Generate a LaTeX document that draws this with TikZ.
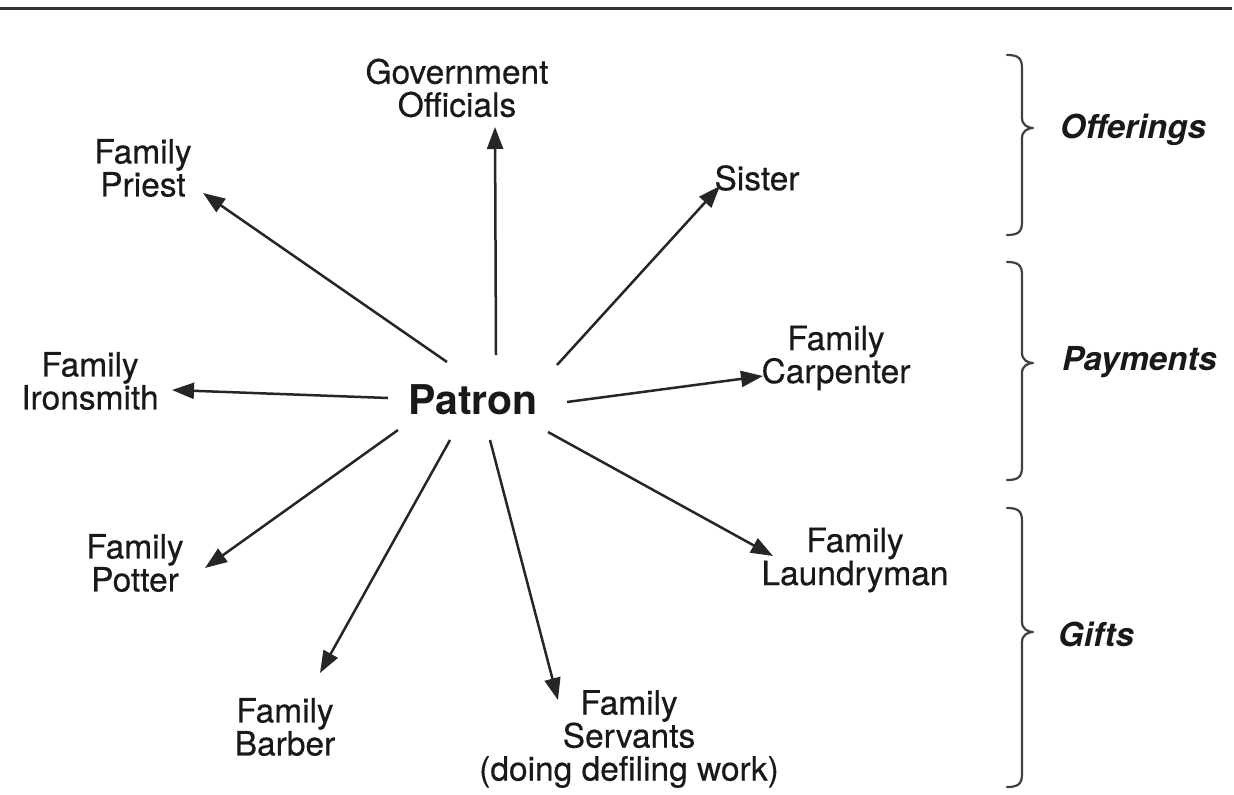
\documentclass[tikz,border=0pt]{standalone}
\usepackage{fontspec}
\setmainfont{TeX Gyre Heros}
\newfontfamily\lblfont{TeX Gyre Heros}[FakeBold=0.4]
\usetikzlibrary{arrows.meta}
\begin{document}
\begin{tikzpicture}[x=1bp,y=-1bp,
  lbl/.style={align=center,inner sep=0pt,text=black!90,
    font=\lblfont\fontsize{33.5bp}{33bp}\selectfont},
  hub/.style={inner sep=0pt,text=black!90,
    font=\bfseries\fontsize{41bp}{42bp}\selectfont},
  kind/.style={anchor=west,inner sep=0pt,text=black!90,
    font=\bfseries\itshape\fontsize{33bp}{33bp}\selectfont},
  arr/.style={line width=2.5bp,draw=black!85,
    -{Triangle[length=22bp,width=16bp]}},
  brace/.style={line width=2.2bp,draw=black!75,line cap=round,line join=round}]
\useasboundingbox (0,0) rectangle (1234,795);
\fill[white] (0,0) rectangle (1234,795);

% rule across the top
\draw[line width=3bp,black!80] (0,9) -- (1232,9);

% central node and the households around it
\node[hub] (patron) at (473,400) {Patron};
\node[lbl] (gov) at (457,88) {Government\\Officials};
\node[lbl] (priest) at (143,168) {Family\\Priest};
\node[lbl] (sister) at (757,178) {Sister};
\node[lbl] (iron) at (90,381) {Family\\Ironsmith};
\node[lbl] (carp) at (836,358) {Family\\Carpenter};
\node[lbl] (potter) at (135,563) {Family\\Potter};
\node[lbl] (laundry) at (855,560) {Family\\Laundryman};
\node[lbl] (barber) at (285,727) {Family\\Barber};
\node[lbl] (serv) at (629,739) {Family\\Servants\\(doing defiling work)};

% arrows from the patron outwards
\draw[arr] ([shift={(23,-45)}]patron.center) -- ([shift={(38,39)}]gov.center);
\draw[arr] ([shift={(-26,-38)}]patron.center) -- ([shift={(60,25)}]priest.center);
\draw[arr] ([shift={(84,-35)}]patron.center) -- ([shift={(-37,8)}]sister.center);
\draw[arr] ([shift={(-85,-2)}]patron.center) -- ([shift={(82,9)}]iron.center);
\draw[arr] ([shift={(94,2)}]patron.center) -- ([shift={(-73,18)}]carp.center);
\draw[arr] ([shift={(-75,30)}]patron.center) -- ([shift={(70,5)}]potter.center);
\draw[arr] ([shift={(75,32)}]patron.center) -- ([shift={(-82,-4)}]laundry.center);
\draw[arr] ([shift={(-23,40)}]patron.center) -- ([shift={(35,-54)}]barber.center);
\draw[arr] ([shift={(17,40)}]patron.center) -- ([shift={(-71,-39)}]serv.center);

% braces grouping the kinds of transfer
\foreach \top/\tip/\bot in {55/128/235, 262/363/480, 508/632/787}{
  \draw[brace] (1007,\top) .. controls (1018,\top) and (1022,\top+3) .. (1022,\top+13)
    -- (1022,\tip-10) .. controls (1022,\tip-3) and (1028,\tip) .. (1033,\tip)
    .. controls (1028,\tip) and (1022,\tip+3) .. (1022,\tip+10)
    -- (1022,\bot-13) .. controls (1022,\bot-3) and (1018,\bot) .. (1007,\bot);
}
\node[kind] (off) at (1060,130) {Offerings};
\node[kind] (pay) at (1062,362) {Payments};
\node[kind] (gift) at (1058,634) {Gifts};
\end{tikzpicture}
\end{document}
